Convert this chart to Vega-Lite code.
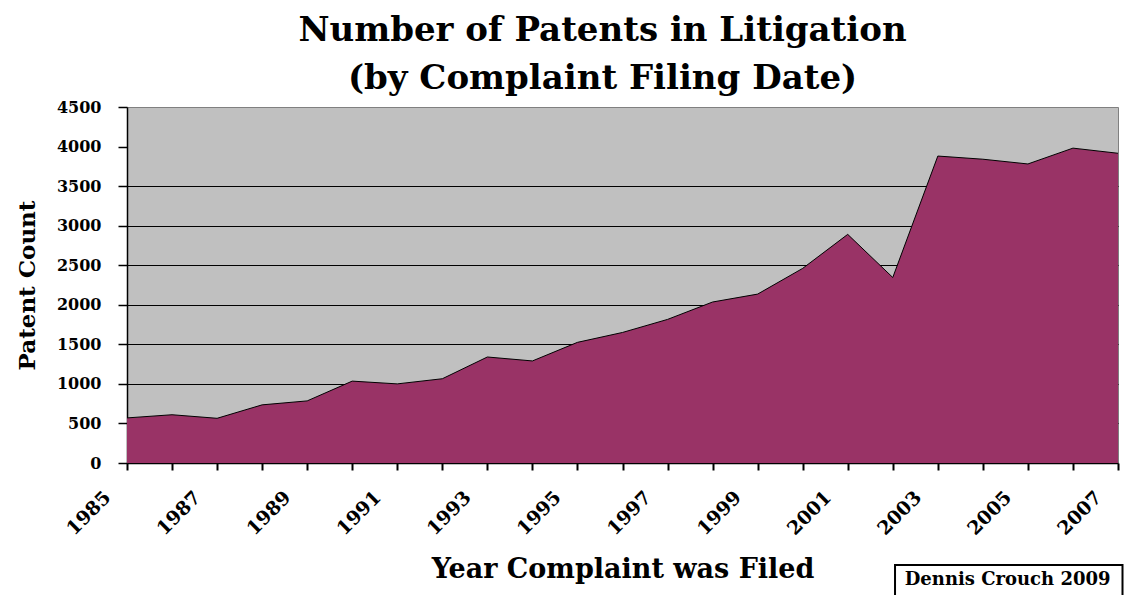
{
  "$schema": "https://vega.github.io/schema/vega-lite/v6.json",
  "width": 991,
  "height": 356,
  "autosize": {"type": "none"},
  "padding": {"left": 127, "top": 107, "right": 9, "bottom": 132},
  "background": "white",
  "config": {
    "view": {"stroke": "#808080", "strokeWidth": 1, "fill": "#C0C0C0"},
    "font": "DejaVu Serif"
  },
  "title": {
    "text": ["Number of Patents in Litigation", "(by Complaint Filing Date)"],
    "font": "DejaVu Serif",
    "fontSize": 34,
    "fontWeight": "bold",
    "color": "black",
    "lineHeight": 48,
    "anchor": "middle",
    "dx": -20,
    "offset": 3
  },
  "layer": [
    {
      "data": {
        "values": [
          {"year": 1985, "count": 570},
          {"year": 1986, "count": 610},
          {"year": 1987, "count": 565},
          {"year": 1988, "count": 735},
          {"year": 1989, "count": 785},
          {"year": 1990, "count": 1035},
          {"year": 1991, "count": 1000},
          {"year": 1992, "count": 1065},
          {"year": 1993, "count": 1340},
          {"year": 1994, "count": 1290},
          {"year": 1995, "count": 1525},
          {"year": 1996, "count": 1650},
          {"year": 1997, "count": 1815},
          {"year": 1998, "count": 2035},
          {"year": 1999, "count": 2135},
          {"year": 2000, "count": 2460},
          {"year": 2001, "count": 2890},
          {"year": 2002, "count": 2345},
          {"year": 2003, "count": 3880},
          {"year": 2004, "count": 3840},
          {"year": 2005, "count": 3780},
          {"year": 2006, "count": 3980},
          {"year": 2007, "count": 3915}
        ]
      },
      "mark": {
        "type": "area",
        "color": "#993366",
        "opacity": 1,
        "line": {"color": "black", "strokeWidth": 1}
      },
      "encoding": {
        "x": {
          "field": "year",
          "type": "quantitative",
          "scale": {"domain": [1985, 2007], "nice": false, "zero": false},
          "axis": {
            "values": [1985, 1986, 1987, 1988, 1989, 1990, 1991, 1992, 1993, 1994, 1995, 1996, 1997, 1998, 1999, 2000, 2001, 2002, 2003, 2004, 2005, 2006, 2007],
            "format": "d",
            "labelExpr": "datum.value % 2 == 1 ? datum.label : ''",
            "labelAngle": -45,
            "labelAlign": "right",
            "labelBaseline": "middle",
            "labelOffset": -20,
            "labelPadding": 24,
            "labelOverlap": false,
            "labelFlush": false,
            "labelFont": "DejaVu Serif",
            "labelFontWeight": "bold",
            "labelFontSize": 19,
            "labelColor": "black",
            "tickColor": "black",
            "tickSize": 7,
            "tickWidth": 2,
            "domainColor": "black",
            "domainWidth": 1.5,
            "grid": false,
            "title": "Year Complaint was Filed",
            "titleFont": "DejaVu Serif",
            "titleFontSize": 27,
            "titleFontWeight": "bold",
            "titleColor": "black",
            "titlePadding": 18
          }
        },
        "y": {
          "field": "count",
          "type": "quantitative",
          "scale": {"domain": [0, 4500], "nice": false},
          "axis": {
            "values": [0, 500, 1000, 1500, 2000, 2500, 3000, 3500, 4000, 4500],
            "format": "d",
            "labelOverlap": false,
            "labelFlush": false,
            "labelFont": "DejaVu Serif",
            "labelFontWeight": "bold",
            "labelFontSize": 16,
            "labelColor": "black",
            "labelPadding": 17,
            "tickColor": "black",
            "tickSize": 9,
            "tickWidth": 1.5,
            "domainColor": "black",
            "domainWidth": 1.5,
            "grid": true,
            "gridColor": "black",
            "gridWidth": 1.2,
            "gridOpacity": {"condition": {"test": "datum.value >= 4000 || datum.value == 0", "value": 0}, "value": 1},
            "title": "Patent Count",
            "titleFont": "DejaVu Serif",
            "titleFontSize": 23,
            "titleFontWeight": "bold",
            "titleColor": "black",
            "titlePadding": 17
          }
        }
      }
    },
    {
      "data": {"values": [{"note": "Dennis Crouch 2009"}]},
      "mark": {"type": "rect", "fill": "white", "stroke": "black", "strokeWidth": 2, "clip": false},
      "encoding": {
        "x": {"datum": 2002.05, "type": "quantitative", "axis": {"values": [1985, 1986, 1987, 1988, 1989, 1990, 1991, 1992, 1993, 1994, 1995, 1996, 1997, 1998, 1999, 2000, 2001, 2002, 2003, 2004, 2005, 2006, 2007], "labelOverlap": false, "title": "Year Complaint was Filed"}},
        "x2": {"datum": 2007.1},
        "y": {"datum": -1290, "type": "quantitative", "axis": {"values": [0, 500, 1000, 1500, 2000, 2500, 3000, 3500, 4000, 4500], "format": "d", "labelOverlap": false, "title": "Patent Count"}},
        "y2": {"datum": -1700}
      }
    },
    {
      "data": {"values": [{"note": "Dennis Crouch 2009"}]},
      "mark": {"type": "text", "font": "DejaVu Serif", "fontWeight": "bold", "fontSize": 18, "color": "black", "align": "center", "baseline": "middle", "clip": false},
      "encoding": {
        "x": {"datum": 2004.55, "type": "quantitative", "axis": {"values": [1985, 1986, 1987, 1988, 1989, 1990, 1991, 1992, 1993, 1994, 1995, 1996, 1997, 1998, 1999, 2000, 2001, 2002, 2003, 2004, 2005, 2006, 2007], "labelOverlap": false, "title": "Year Complaint was Filed"}},
        "y": {"datum": -1480, "type": "quantitative", "axis": {"values": [0, 500, 1000, 1500, 2000, 2500, 3000, 3500, 4000, 4500], "format": "d", "labelOverlap": false, "title": "Patent Count"}},
        "text": {"field": "note"}
      }
    }
  ]
}
